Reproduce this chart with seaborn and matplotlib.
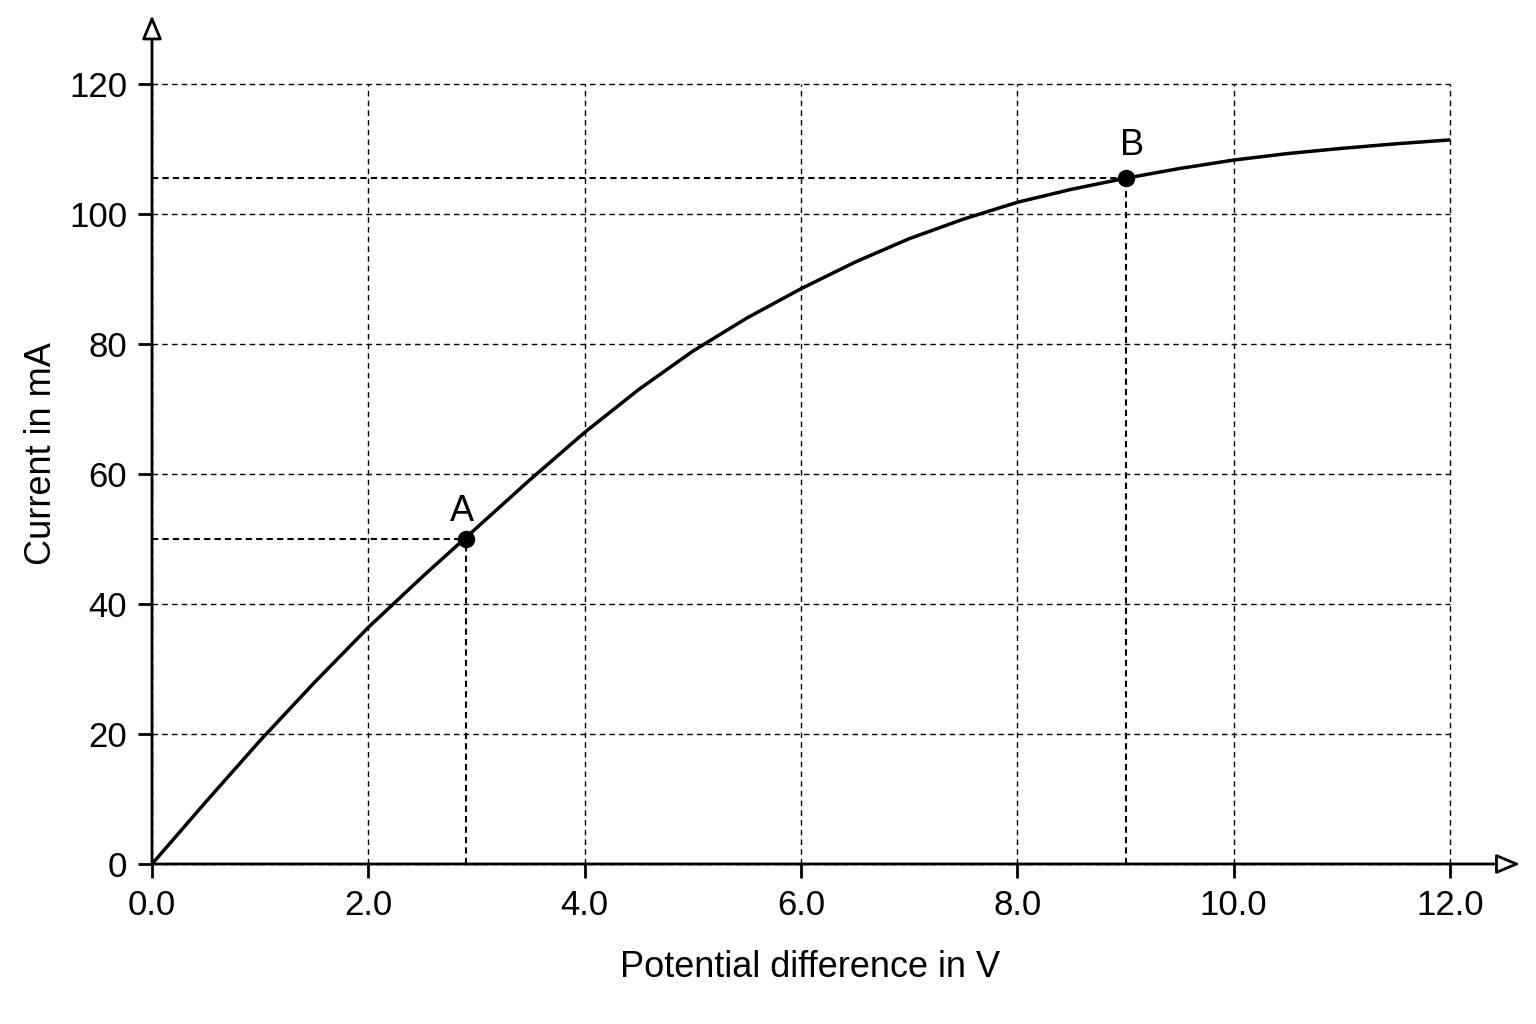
import matplotlib
matplotlib.use('Agg')
import matplotlib.pyplot as plt
import seaborn as sns

# Curve: potential difference (V) vs current (mA)
voltage = [0.0, 0.5, 1.0, 1.5, 2.0, 2.5, 3.0, 3.5, 4.0, 4.5, 5.0, 5.5, 6.0,
           6.5, 7.0, 7.5, 8.0, 8.5, 9.0, 9.5, 10.0, 10.5, 11.0, 11.5, 12.0]
current = [0.0, 9.6, 19.0, 27.9, 36.4, 44.2, 51.7, 59.2, 66.4, 73.0, 78.9, 84.0, 88.5,
           92.6, 96.2, 99.2, 101.8, 103.8, 105.5, 107.0, 108.3, 109.3, 110.1, 110.8, 111.4]

# Marked points
point_labels = ['A', 'B']
point_v = [2.9, 9.0]
point_i = [50.0, 105.5]
label_offsets = [(-3, 13), (5, 17)]

x_ticks = [0, 2, 4, 6, 8, 10, 12]
y_ticks = [0, 20, 40, 60, 80, 100, 120]

sns.set_theme(style='ticks')
plt.rcParams['font.family'] = ['Liberation Sans', 'DejaVu Sans']

fig = plt.figure(figsize=(15.36, 10.24), dpi=100)
fig.patch.set_facecolor('white')
ax = fig.add_axes([152 / 1536, 1 - 864 / 1024, 1298 / 1536, 780 / 1024])

# Dashed grid
ax.set_xticks(x_ticks)
ax.set_yticks(y_ticks)
ax.set_xticklabels([f'{v:.1f}' for v in x_ticks])
ax.set_yticklabels([str(v) for v in y_ticks])
ax.set_xlim(0, 12)
ax.set_ylim(0, 120)
ax.grid(True, color='black', linestyle=(0, (4, 3)), linewidth=1.0)
ax.set_axisbelow(True)
for gl in ax.get_xgridlines() + ax.get_ygridlines():
    gl.set_clip_on(False)

# Main curve
sns.lineplot(x=voltage, y=current, ax=ax, color='black', linewidth=2.5, sort=False,
             zorder=4, solid_joinstyle='round')

# Dashed drop lines from the points to the axes
for v, i in zip(point_v, point_i):
    ax.plot([0, v], [i, i], color='black', linestyle=(0, (3, 2)), linewidth=1.5, zorder=3)
    ax.plot([v, v], [0, i], color='black', linestyle=(0, (3, 2)), linewidth=1.5, zorder=3)

sns.scatterplot(x=point_v, y=point_i, ax=ax, color='black', s=135, edgecolor='black',
                zorder=6, legend=False)
for lbl, v, i, off in zip(point_labels, point_v, point_i, label_offsets):
    ax.annotate(lbl, (v, i), xytext=off, textcoords='offset points',
                ha='center', va='baseline', fontsize=26, color='black')

# Axes with open arrow heads
for s in ax.spines.values():
    s.set_visible(False)
arrow = dict(arrowstyle='-|>,head_length=0.72,head_width=0.3', mutation_scale=20,
             fc='white', ec='black', lw=2, shrinkA=0, shrinkB=0)
ax.annotate('', xy=(1.054, 0), xytext=(0, 0), xycoords='axes fraction',
            textcoords='axes fraction', arrowprops=arrow, annotation_clip=False, zorder=7)
ax.annotate('', xy=(0, 1.088), xytext=(0, 0), xycoords='axes fraction',
            textcoords='axes fraction', arrowprops=arrow, annotation_clip=False, zorder=7)

ax.tick_params(direction='out', length=10, width=2, color='black', labelsize=25,
               pad=8, labelcolor='black')

ax.set_xlabel('Potential difference in V', fontsize=26, color='black')
ax.set_ylabel('Current in mA', fontsize=26, color='black')
ax.xaxis.set_label_coords(0.507, -0.11)
ax.yaxis.set_label_coords(-0.072, 0.526)

fig.savefig('out.png', dpi=100, facecolor='white')
